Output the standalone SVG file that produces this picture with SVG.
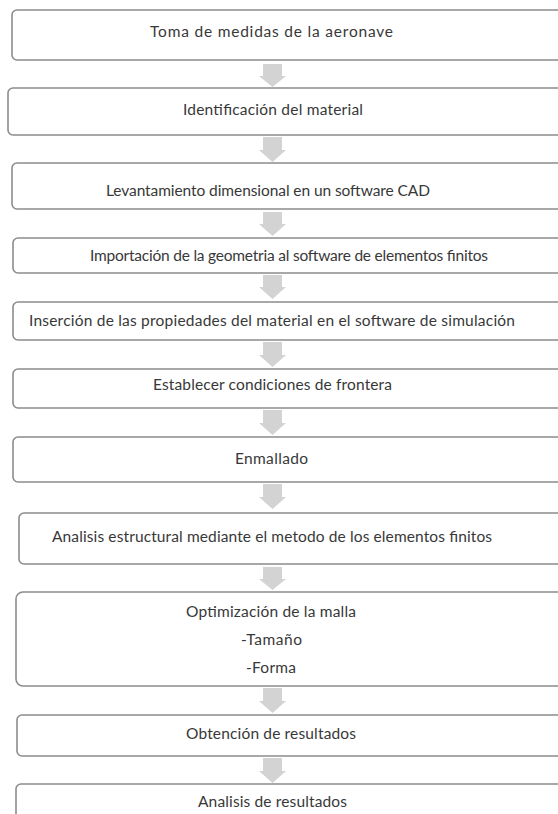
<svg xmlns="http://www.w3.org/2000/svg" width="558" height="814" viewBox="0 0 558 814">
<style>
.box{fill:#fff;stroke:#8c8c8c;stroke-width:1.6}
.t{font-family:Lato,"Liberation Sans",sans-serif;font-size:15.5px;fill:#383838;text-anchor:middle}
.arr{fill:#d3d3d3}
</style>
<rect width="558" height="814" fill="#fff"/>
<g id="connectors">
<polygon class="arr" points="263,64 282,64 282,76 286,76 272.5,87 259,76 263,76"/>
<polygon class="arr" points="263,137 282,137 282,150 286,150 272.5,162 259,150 263,150"/>
<polygon class="arr" points="263,212 282,212 282,224 286,224 272.5,236 259,224 263,224"/>
<polygon class="arr" points="263,275 282,275 282,287 286,287 272.5,299 259,287 263,287"/>
<polygon class="arr" points="263,342 282,342 282,355 286,355 272.5,367 259,355 263,355"/>
<polygon class="arr" points="263,410 282,410 282,423 286,423 272.5,435 259,423 263,423"/>
<polygon class="arr" points="263,484 282,484 282,497 286,497 272.5,509 259,497 263,497"/>
<polygon class="arr" points="263,567 282,567 282,579 286,579 272.5,590 259,579 263,579"/>
<polygon class="arr" points="263,688 282,688 282,701 286,701 272.5,713 259,701 263,701"/>
<polygon class="arr" points="263,758 282,758 282,771 286,771 272.5,783 259,771 263,771"/>
</g>
<g id="n1"><rect class="box" x="12" y="10" width="570" height="50" rx="5"/><text class="t" x="271.5" y="37" textLength="243">Toma de medidas de la aeronave</text></g>
<g id="n2"><rect class="box" x="8" y="88" width="570" height="47" rx="5"/><text class="t" x="273" y="115" textLength="180">Identificación del material</text></g>
<g id="n3"><rect class="box" x="12" y="163" width="570" height="46" rx="5"/><text class="t" x="268" y="196" textLength="324">Levantamiento dimensional en un software CAD</text></g>
<g id="n4"><rect class="box" x="13" y="238" width="570" height="35" rx="5"/><text class="t" x="289" y="261" textLength="398">Importación de la geometria al software de elementos finitos</text></g>
<g id="n5"><rect class="box" x="13" y="302" width="570" height="38" rx="5"/><text class="t" x="272" y="325.5" textLength="486">Inserción de las propiedades del material en el software de simulación</text></g>
<g id="n6"><rect class="box" x="13" y="369" width="570" height="39" rx="5"/><text class="t" x="272.5" y="390" textLength="239">Establecer condiciones de frontera</text></g>
<g id="n7"><rect class="box" x="13" y="437" width="570" height="45" rx="5"/><text class="t" x="271.5" y="464" textLength="73">Enmallado</text></g>
<g id="n8"><rect class="box" x="19" y="513" width="570" height="51" rx="5"/><text class="t" x="272" y="541.5" textLength="440">Analisis estructural mediante el metodo de los elementos finitos</text></g>
<g id="n9"><rect class="box" x="16" y="592" width="570" height="94" rx="7"/><text class="t" x="271" y="616.5" textLength="170">Optimización de la malla</text><text class="t" x="271.5" y="645" textLength="61">-Tamaño</text><text class="t" x="271" y="672.5" textLength="50">-Forma</text></g>
<g id="n10"><rect class="box" x="17" y="715" width="570" height="41" rx="5"/><text class="t" x="271" y="739" textLength="170">Obtención de resultados</text></g>
<g id="n11"><rect class="box" x="16" y="784" width="570" height="46" rx="5"/><text class="t" x="272.5" y="806.5" textLength="149">Analisis de resultados</text></g>
</svg>
